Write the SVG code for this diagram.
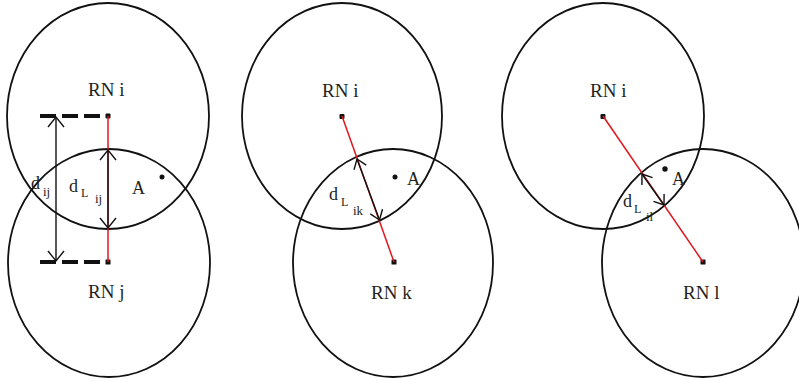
<svg xmlns="http://www.w3.org/2000/svg" width="799" height="381" viewBox="0 0 799 381">
<style>
.c{fill:none;stroke:#111;stroke-width:1.8}
.dot{fill:#111}
.red{stroke:#e0161d;stroke-width:1.5;fill:none}
.ar{stroke:#111;stroke-width:1.4;fill:none}
.dash{stroke:#111;stroke-width:4;stroke-dasharray:16 6;fill:none}
text{font-family:"Liberation Serif","Times New Roman",serif;fill:#231f20}
.t{font-size:19px}
.s{font-size:18px}
.sub{font-size:13px}
.sub2{font-size:12px}
</style>
<defs>
<marker id="v" viewBox="-12 -10 14 20" markerWidth="14" markerHeight="20" refX="0" refY="0" orient="auto-start-reverse" markerUnits="userSpaceOnUse">
<path d="M-10,-8 L0,0 L-10,8" fill="none" stroke="#111" stroke-width="1.4"/>
</marker>
<marker id="vs" viewBox="-12 -10 14 20" markerWidth="14" markerHeight="20" refX="0" refY="0" orient="auto-start-reverse" markerUnits="userSpaceOnUse">
<path d="M-9,-6.5 L0,0 L-9,6.5" fill="none" stroke="#111" stroke-width="1.4"/>
</marker>
</defs>

<g id="p1-rn-i">
<ellipse class="c" cx="108" cy="116" rx="101" ry="113"/>
<rect class="dot" x="105.5" y="113.5" width="5" height="5" rx="1"/>
<text class="t" x="88" y="96">RN i</text>
</g>
<g id="p1-rn-j">
<ellipse class="c" cx="109" cy="263" rx="101" ry="114"/>
<rect class="dot" x="105.5" y="259.5" width="5" height="5" rx="0.5"/>
<text class="t" x="88" y="298">RN j</text>
</g>
<g id="p2-rn-i">
<ellipse class="c" cx="342" cy="116" rx="100" ry="113"/>
<rect class="dot" x="339.5" y="114" width="5" height="5" rx="1"/>
<text class="t" x="322" y="97">RN i</text>
</g>
<g id="p2-rn-k">
<ellipse class="c" cx="393" cy="263" rx="100" ry="114"/>
<rect class="dot" x="391.5" y="259.5" width="5" height="5" rx="0.5"/>
<text class="t" x="371" y="299">RN k</text>
</g>
<g id="p3-rn-i">
<ellipse class="c" cx="603" cy="116" rx="101" ry="113"/>
<rect class="dot" x="600.5" y="114" width="5" height="5" rx="1"/>
<text class="t" x="590" y="97">RN i</text>
</g>
<g id="p3-rn-l">
<ellipse class="c" cx="703" cy="263" rx="101" ry="114"/>
<rect class="dot" x="700.5" y="259.5" width="5" height="5" rx="0.5"/>
<text class="t" x="683" y="299">RN l</text>
</g>

<g id="points">
<circle class="dot" cx="162" cy="177" r="2.5"/>
<circle class="dot" cx="395" cy="177" r="2.5"/>
<circle class="dot" cx="665" cy="169" r="2.7"/>
<text class="s" x="132" y="194">A</text>
<text class="s" x="407" y="185">A</text>
<text class="s" x="672" y="185">A</text>
</g>

<g id="connectors">
<line class="dash" x1="40" y1="116" x2="102" y2="116"/>
<line class="dash" x1="40" y1="262" x2="102" y2="262"/>
<line class="ar" x1="56" y1="117" x2="56" y2="261" marker-start="url(#v)" marker-end="url(#v)"/>
<line class="red" x1="108" y1="116" x2="108" y2="262"/>
<line class="ar" x1="108" y1="150" x2="108" y2="228" marker-start="url(#v)" marker-end="url(#v)"/>
<line class="red" x1="342" y1="116" x2="394" y2="262"/>
<line class="ar" x1="357" y1="159" x2="379.5" y2="220" marker-start="url(#vs)" marker-end="url(#vs)"/>
<line class="red" x1="603" y1="116" x2="703" y2="262"/>
<line class="ar" x1="642" y1="174" x2="664" y2="205" marker-start="url(#vs)" marker-end="url(#vs)"/>
</g>

<g id="labels">
<text class="s" x="31" y="189">d</text>
<text class="sub" x="43" y="196">ij</text>
<text class="s" x="69" y="192">d</text>
<text class="sub2" x="81" y="197">L</text>
<text class="sub" x="95" y="203">ij</text>
<text class="s" x="329" y="200">d</text>
<text class="sub2" x="341" y="206">L</text>
<text class="sub" x="353" y="215">ik</text>
<text class="s" x="623" y="207">d</text>
<text class="sub2" x="634" y="213">L</text>
<text class="sub" x="646" y="221">il</text>
</g>
</svg>
